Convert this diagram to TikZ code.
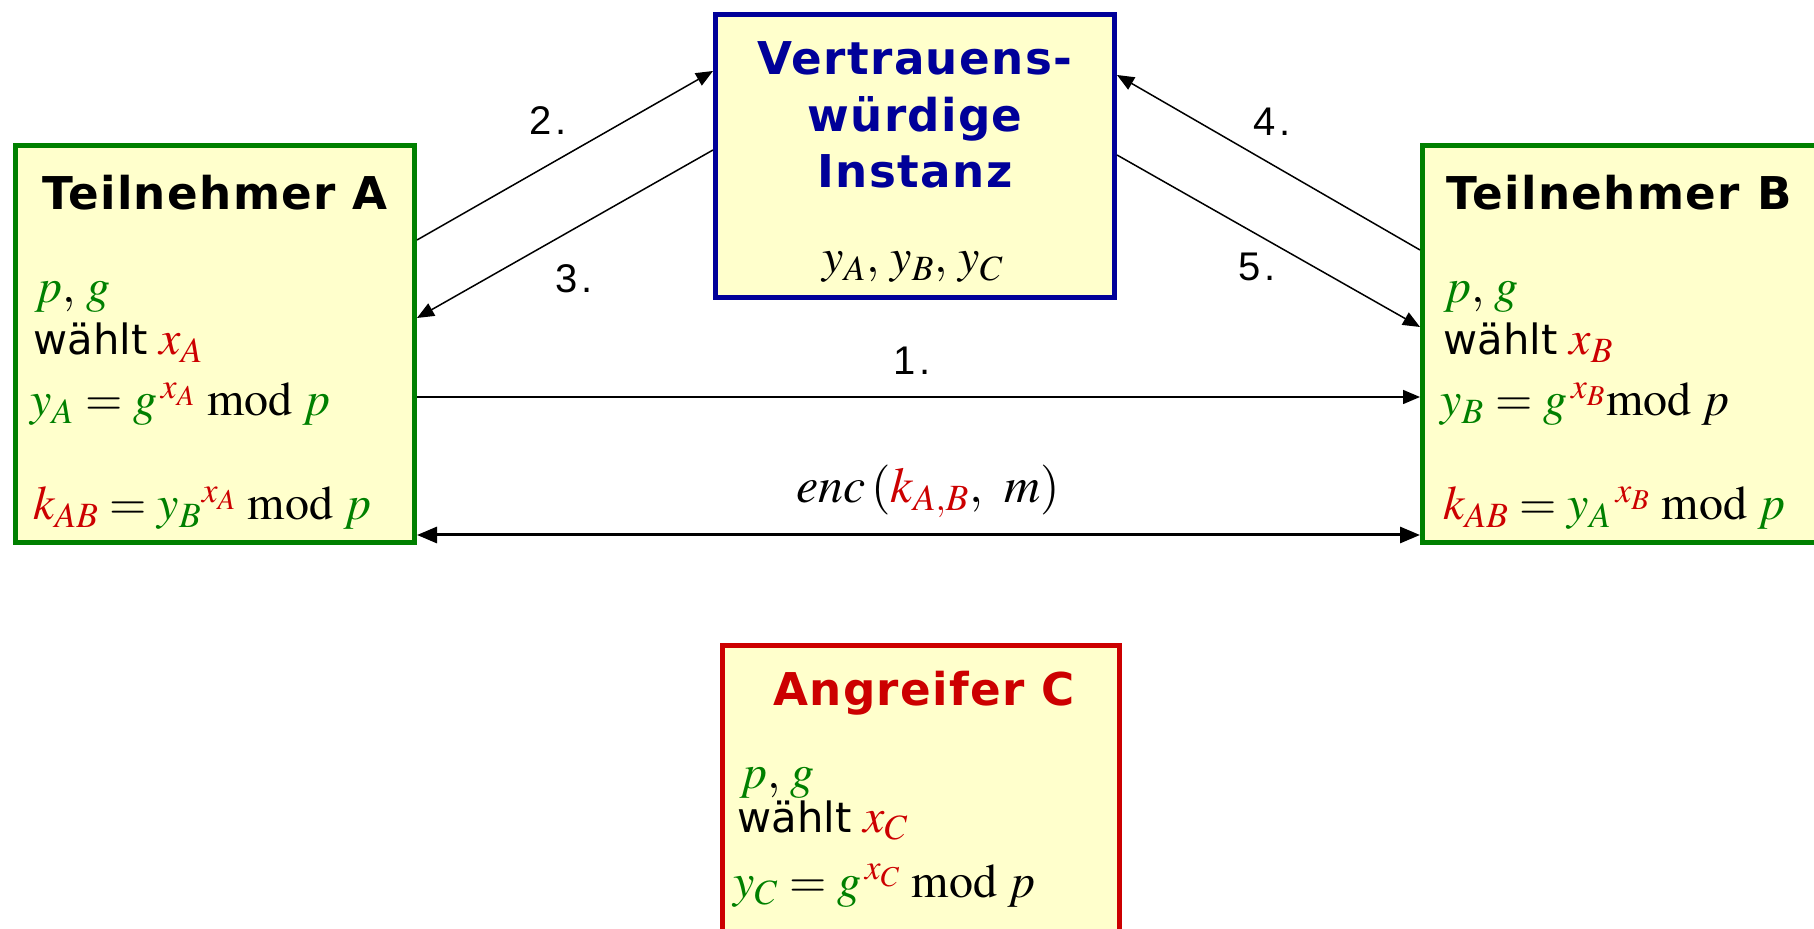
\documentclass[tikz,border=0pt]{standalone}
\usepackage{mathptmx}
\usepackage[no-math]{fontspec}
\newfontfamily\ttl{DejaVu Sans}[LetterSpace=3]
\newfontfamily\dv{DejaVu Sans}
\newfontfamily\lib{Liberation Sans}
\usetikzlibrary{arrows.meta}
\definecolor{grn}{RGB}{0,128,0}
\definecolor{rd}{RGB}{204,0,0}
\definecolor{blu}{RGB}{0,0,153}
\definecolor{ylw}{RGB}{255,255,204}
\newcommand\G[1]{{\color{grn}#1}}
\newcommand\R[1]{{\color{rd}#1}}
\newcommand\M[1]{{\fontsize{24pt}{28pt}\selectfont$#1$}}
\newcommand\W{{\dv\fontsize{20.85pt}{25pt}\selectfont w\"ahlt}\hspace{6pt}}
\begin{document}
\begin{tikzpicture}[x=0.5pt,y=-0.5pt,
  box/.style={draw,fill=ylw,line width=2.5pt,inner sep=0pt,anchor=north west},
  txt/.style={inner sep=0pt,anchor=base west},
  ttlt/.style={inner sep=0pt,anchor=base,font=\ttl\bfseries\fontsize{22.6pt}{28.5pt}\selectfont},
  numl/.style={inner sep=0pt,anchor=base west,font=\lib\fontsize{20pt}{24pt}\selectfont},
  thin/.style={line width=0.75pt,-{Triangle[length=8.5pt,width=7pt]}},
  thick/.style={line width=1.5pt,{Triangle[length=10pt,width=8pt]}-{Triangle[length=10pt,width=8pt]}}]
\useasboundingbox (0,0) rectangle (1814,929);
\clip (0,0) rectangle (1814,929);
% boxes
\node[box,draw=grn,minimum width=199.5pt,minimum height=198.5pt] (A) at (13,143) {};
\node[box,draw=grn,minimum width=207.5pt,minimum height=198.5pt] (B) at (1420,143) {};
\node[box,draw=blu,minimum width=199.5pt,minimum height=141.5pt] (T) at (713,12) {};
\node[box,draw=rd,minimum width=198.5pt,minimum height=156pt] (C) at (720,643) {};
% A texts
\node[ttlt] (At) at (215,210) {Teilnehmer A};
\node[txt] (Ap) at (35,303) {\M{\G{p},\,\G{g}}};
\node[txt] (Aw) at (33,355) {\W\M{\R{x_A}}};
\node[txt] (Ay) at (30,416) {\M{\G{y_A} = \G{g}^{\,\R{x_A}}\;\mathrm{mod}\;\G{p}}};
\node[txt] (Ak) at (33,520) {\M{\R{k_{AB}} = \G{y_B}^{\R{x_A}}\;\mathrm{mod}\;\G{p}}};
% B texts
\node[ttlt] (Bt) at (1619,210) {Teilnehmer B};
\node[txt] (Bp) at (1443,303) {\M{\G{p},\,\G{g}}};
\node[txt] (Bw) at (1443,355) {\W\M{\R{x_B}}};
\node[txt] (By) at (1440,416) {\M{\G{y_B} = \G{g}^{\,\R{x_B}}\mathrm{mod}\;p}};
\node[txt] (Bk) at (1443,520) {\M{\R{k_{AB}} = \G{y_A}^{\,\R{x_B}}\;\mathrm{mod}\;\G{p}}};
% T texts
\node[ttlt,text=blu] (T1) at (915,75) {Vertrauens-};
\node[ttlt,text=blu] (T2) at (915,132) {würdige};
\node[ttlt,text=blu] (T3) at (915,188) {Instanz};
\node[inner sep=0pt,anchor=base] (Ty) at (913,273) {\M{y_A,\,y_B,\,y_C}};
% C texts
\node[ttlt,text=rd] (Ct) at (924,705) {Angreifer C};
\node[txt] (Cp) at (739,788) {\M{\G{p},\,\G{g}}};
\node[txt] (Cw) at (737,832) {\W\M{\R{x_C}}};
\node[txt] (Cy) at (733,897) {\M{\G{y_C} = \G{g}^{\,\R{x_C}}\;\mathrm{mod}\;p}};
% connectors
\draw[thin] ([yshift=-127pt]A.north east) -- ([yshift=-127pt]B.north west);
\draw[thin] ([yshift=-48.5pt]A.north east) -- ([yshift=-29.5pt]T.north west);
\draw[thin] ([yshift=-69pt]T.north west) -- ([yshift=-87.5pt]A.north east);
\draw[thin] ([yshift=-53.5pt]B.north west) -- ([yshift=-31.5pt]T.north east);
\draw[thin] ([yshift=-71.5pt]T.north east) -- ([yshift=-92pt]B.north west);
\draw[thick] ([yshift=-196pt]A.north east) -- ([yshift=-196pt]B.north west);
% labels
\node[numl] (L1) at (893,375) {1\kern2pt.};
\node[numl] (L2) at (529,135) {2\kern2pt.};
\node[numl] (L3) at (555,293) {3\kern2pt.};
\node[numl] (L4) at (1253,136) {4\kern2pt.};
\node[numl] (L5) at (1238,281) {5\kern2pt.};
\node[inner sep=0pt,anchor=base] (Le) at (928,503) {{\fontsize{25pt}{30pt}\selectfont$enc\,(\R{k_{A,B}},\ m)$}};
\end{tikzpicture}
\end{document}
